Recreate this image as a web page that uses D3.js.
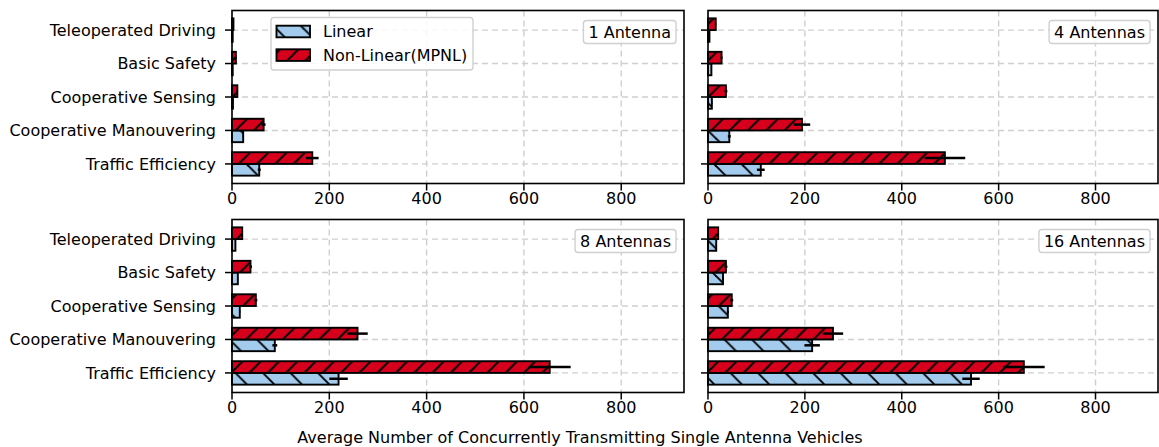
<!DOCTYPE html>
<html><head><meta charset="utf-8">
<script src="https://cdn.jsdelivr.net/npm/d3@7"></script>
<style>
html,body{margin:0;padding:0;background:#fff;}
svg text{font-family:"DejaVu Sans",sans-serif;}
</style></head>
<body><svg id="chart" width="1159" height="447"></svg>
<script>
const categories = ["Traffic Efficiency","Cooperative Manouvering","Cooperative Sensing","Basic Safety","Teleoperated Driving"];
const panelTitles = ["1 Antenna","4 Antennas","8 Antennas","16 Antennas"];
const seriesNames = ["Linear","Non-Linear(MPNL)"];
const xTicks = [0,200,400,600,800];

const linear1 = [56, 23, 2, 1.5, 1.5];
const linearErr1 = [3, 1, 0.5, 0.5, 0.5];
const nonlinear1 = [165, 65, 11, 8, 3];
const nonlinearErr1 = [13, 4, 1, 1, 0.5];

const linear4 = [109, 44, 8, 7, 3];
const linearErr4 = [8, 3, 1, 1, 0.5];
const nonlinear4 = [489, 194, 37, 28, 16];
const nonlinearErr4 = [42, 17, 3, 2, 1];

const linear8 = [219, 88, 16, 12, 7];
const linearErr8 = [19, 5, 1, 1, 0.5];
const nonlinear8 = [653, 258, 49, 38, 21];
const nonlinearErr8 = [43, 21, 3, 3, 1];

const linear16 = [543, 215, 41, 31, 17];
const linearErr16 = [18, 16, 2, 2, 1];
const nonlinear16 = [652, 258, 49, 37, 21];
const nonlinearErr16 = [43, 21, 3, 3, 1];

const panelData = [
  {title: panelTitles[0], lin: linear1, linErr: linearErr1, nl: nonlinear1, nlErr: nonlinearErr1},
  {title: panelTitles[1], lin: linear4, linErr: linearErr4, nl: nonlinear4, nlErr: nonlinearErr4},
  {title: panelTitles[2], lin: linear8, linErr: linearErr8, nl: nonlinear8, nlErr: nonlinearErr8},
  {title: panelTitles[3], lin: linear16, linErr: linearErr16, nl: nonlinear16, nlErr: nonlinearErr16}
];

const svg = d3.select("#chart");
const FS = 16;
const colLin = "#a2cbed", colNL = "#d6001c";
const barH = 0.35;

// hatch patterns
const defs = svg.append("defs");
function hatch(id, w, color, dir){
  const p = defs.append("pattern").attr("id", id).attr("patternUnits","userSpaceOnUse")
    .attr("width", w).attr("height", w);
  p.append("rect").attr("width", w).attr("height", w).attr("fill", color);
  const segs = dir === "/" ?
    [[0,w,w,0],[-w/2,w/2,w/2,-w/2],[w/2,3*w/2,3*w/2,w/2]] :
    [[0,0,w,w],[-w/2,w/2,w/2,3*w/2],[w/2,-w/2,3*w/2,w/2]];
  segs.forEach(s => p.append("line").attr("x1",s[0]).attr("y1",s[1]).attr("x2",s[2]).attr("y2",s[3])
    .attr("stroke","#000").attr("stroke-width",1.9));
}
hatch("hLin", 27.5, colLin, "\\");
hatch("hNL", 18.3, colNL, "/");

const layout = [
  {x0: 232, x1: 684, y0: 10.5, y1: 183.5, ylabels: true},
  {x0: 708, x1: 1158, y0: 10.5, y1: 183.5, ylabels: false},
  {x0: 232, x1: 684, y0: 219.5, y1: 392.5, ylabels: true},
  {x0: 708, x1: 1158, y0: 219.5, y1: 392.5, ylabels: false}
];

panelData.forEach((pd, i) => {
  const L = layout[i];
  const x = d3.scaleLinear().domain([0, 929]).range([L.x0, L.x1]);
  const y = d3.scaleLinear().domain([-0.585, 4.585]).range([L.y1, L.y0]);
  const g = svg.append("g");

  // grid
  g.selectAll(".gx").data(xTicks).enter().append("line")
    .attr("x1", d => x(d)).attr("x2", d => x(d)).attr("y1", L.y0).attr("y2", L.y1)
    .attr("stroke", "#cfcfcf").attr("stroke-width", 1.4).attr("stroke-dasharray", "6,4");
  g.selectAll(".gy").data(categories).enter().append("line")
    .attr("x1", L.x0).attr("x2", L.x1).attr("y1", (d,k) => y(k)).attr("y2", (d,k) => y(k))
    .attr("stroke", "#cfcfcf").attr("stroke-width", 1.4).attr("stroke-dasharray", "6,4");

  // bars
  const series = [
    {vals: pd.lin, errs: pd.linErr, off: -barH/2, fill: "url(#hLin)"},
    {vals: pd.nl, errs: pd.nlErr, off: barH/2, fill: "url(#hNL)"}
  ];
  series.forEach(s => {
    g.selectAll(null).data(s.vals).enter().append("rect")
      .attr("x", x(0))
      .attr("y", (d,k) => y(k + s.off + barH/2))
      .attr("width", d => x(d) - x(0))
      .attr("height", y(0) - y(barH))
      .attr("fill", s.fill).attr("stroke", "#000").attr("stroke-width", 1.9);
  });
  series.forEach(s => {
    g.selectAll(null).data(s.vals).enter().append("line")
      .attr("x1", (d,k) => x(Math.max(0, d - s.errs[k])))
      .attr("x2", (d,k) => x(d + s.errs[k]))
      .attr("y1", (d,k) => y(k + s.off)).attr("y2", (d,k) => y(k + s.off))
      .attr("stroke", "#000").attr("stroke-width", 2.5);
  });

  // spines
  g.append("rect").attr("x", L.x0).attr("y", L.y0).attr("width", L.x1 - L.x0).attr("height", L.y1 - L.y0)
    .attr("fill", "none").attr("stroke", "#000").attr("stroke-width", 1.6);

  // x ticks
  const xt = g.selectAll(".xt").data(xTicks).enter().append("g");
  xt.append("line").attr("x1", d => x(d)).attr("x2", d => x(d)).attr("y1", L.y1).attr("y2", L.y1 + 7)
    .attr("stroke", "#000").attr("stroke-width", 1.5);
  xt.append("text").attr("x", d => x(d)).attr("y", L.y1 + 20).attr("text-anchor", "middle")
    .attr("font-size", FS).attr("fill", "#000").text(d => d);

  // y ticks
  const yt = g.selectAll(".yt").data(categories).enter().append("g");
  yt.append("line").attr("x1", L.x0 - 7).attr("x2", L.x0).attr("y1", (d,k) => y(k)).attr("y2", (d,k) => y(k))
    .attr("stroke", "#000").attr("stroke-width", 1.5);
  if (L.ylabels) {
    yt.append("text").attr("x", L.x0 - 16).attr("y", (d,k) => y(k)).attr("dy", "0.36em")
      .attr("text-anchor", "end").attr("font-size", FS).attr("fill", "#000").text(d => d);
  }

  // panel label box
  const box = g.append("rect");
  const t = g.append("text").attr("font-size", FS).attr("fill", "#000").attr("text-anchor", "end")
    .attr("x", L.x1 - 13).attr("y", L.y0 + 27).text(pd.title);
  const bb = t.node().getBBox();
  box.attr("x", bb.x - 5).attr("y", L.y0 + 10).attr("width", bb.width + 10).attr("height", 23)
    .attr("rx", 3).attr("fill", "#fff").attr("fill-opacity", 0.85)
    .attr("stroke", "#d0d0d0").attr("stroke-width", 1.4);
});

// legend
const lg = svg.append("g");
lg.append("rect").attr("x", 271).attr("y", 17.5).attr("width", 202).attr("height", 52.5).attr("rx", 3)
  .attr("fill", "#fff").attr("fill-opacity", 0.85).attr("stroke", "#d0d0d0").attr("stroke-width", 1.4);
[["url(#hLin)", 25.7], ["url(#hNL)", 49.3]].forEach((h, k) => {
  lg.append("rect").attr("x", 276.5).attr("y", h[1]).attr("width", 33.5).attr("height", 11.6)
    .attr("fill", h[0]).attr("stroke", "#000").attr("stroke-width", 1.9);
  lg.append("text").attr("x", 323).attr("y", h[1] + 11.5).attr("font-size", FS).attr("fill", "#000")
    .text(seriesNames[k]);
});

// x label
svg.append("text").attr("x", 580).attr("y", 443).attr("text-anchor", "middle").attr("font-size", FS)
  .attr("fill", "#000").text("Average Number of Concurrently Transmitting Single Antenna Vehicles");
</script></body></html>
